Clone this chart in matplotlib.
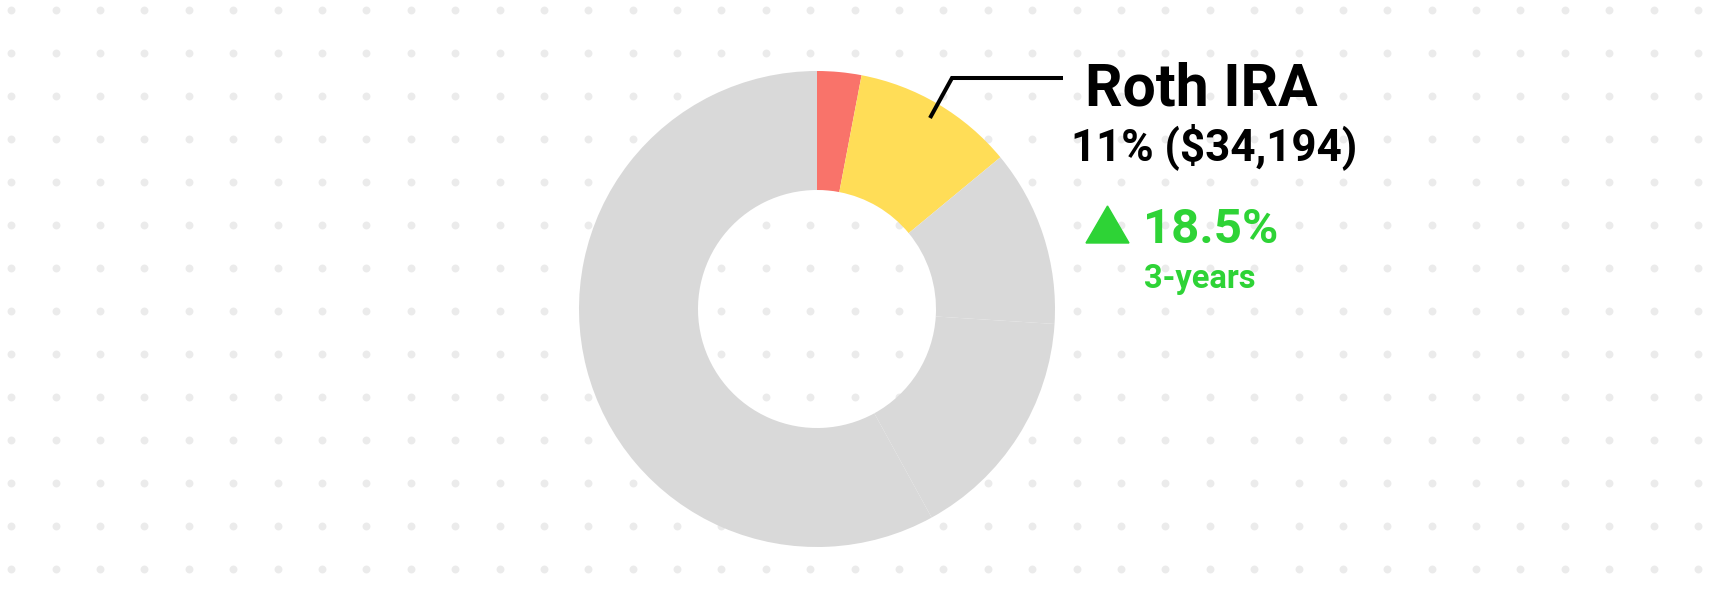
import matplotlib
matplotlib.use("Agg")
import matplotlib.pyplot as plt
from matplotlib.patches import Polygon
import numpy as np

# Data
labels = ["Other A", "Roth IRA", "Other B", "Other C", "Other D"]
shares = [3, 11, 12, 16, 58]
colors = ["#F9736A", "#FFDD57", "#D9D9D9", "#D9D9D9", "#D9D9D9"]
highlight_label = "Roth IRA"
highlight_value = "11% ($34,194)"
change_text = "18.5%"
period_text = "3-years"

W, H = 1713, 591
fig = plt.figure(figsize=(W / 100, H / 100), dpi=100)
fig.patch.set_facecolor("white")
ax = fig.add_axes([0, 0, 1, 1])
ax.set_xlim(0, W)
ax.set_ylim(0, H)
ax.set_aspect("equal")
ax.axis("off")

# Background dot grid
xs = np.linspace(11.3, 1698, 39)
ys = np.linspace(10, 569, 14)
gx, gy = np.meshgrid(xs, ys)
ax.scatter(gx.ravel(), H - gy.ravel(), s=32, color="#EBEBEB", linewidths=0, zorder=0)

# Donut
cx, cy, r = 817, H - 309, 238
wedges, _ = ax.pie(shares, colors=colors, startangle=90, counterclock=False,
                   center=(cx, cy), radius=r, frame=True,
                   wedgeprops=dict(width=r * 0.5, linewidth=0))
ax.set_xlim(0, W)
ax.set_ylim(0, H)
ax.axis("off")

# Leader line
ax.plot([930, 952, 1063], [H - 118, H - 78, H - 78], color="black", lw=2.9,
        solid_capstyle="butt", solid_joinstyle="miter", zorder=5)

font = "Roboto"
ax.text(1085, H - 105, highlight_label, fontsize=42.4, fontweight="bold",
        family=font, ha="left", va="baseline", color="black")
ax.text(1071, H - 160, highlight_value, fontsize=31.6, fontweight="bold",
        family=font, ha="left", va="baseline", color="black")

green = "#2ED336"
tri = Polygon([[1086, H - 243], [1129, H - 243], [1107.5, H - 206]],
              closed=True, color=green, zorder=5)
ax.add_patch(tri)
ax.text(1143, H - 243, change_text, fontsize=35.5, fontweight="bold",
        family=font, ha="left", va="baseline", color=green)
ax.text(1144, H - 288, period_text, fontsize=23.5, fontweight="bold",
        family=font, ha="left", va="baseline", color=green)

fig.savefig("out.png", dpi=100, facecolor="white")
